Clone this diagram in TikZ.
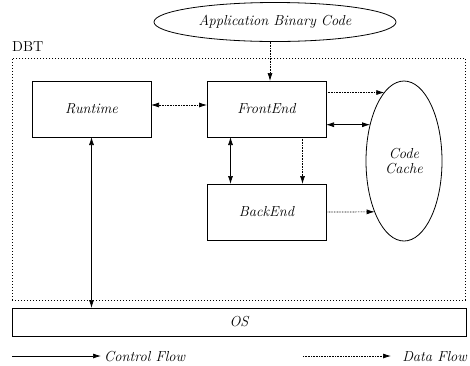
\documentclass[tikz,border=0pt]{standalone}
\usetikzlibrary{shapes.geometric,arrows.meta}
\begin{document}
\begin{tikzpicture}[x=1pt,y=-1pt,
  lbl/.style={font=\fontsize{14.5}{14.5}\selectfont\itshape},
  blk/.style={draw,line width=0.8pt,lbl,inner sep=0pt,outer sep=0pt,minimum width=119pt,minimum height=56pt},
  ell/.style={draw,line width=0.8pt,ellipse,lbl,inner sep=0pt,outer sep=0pt},
  ctl/.style={line width=0.7pt,{Latex[length=8pt,width=5pt]}-{Latex[length=8pt,width=5pt]}},
  ctlone/.style={line width=0.7pt,-{Latex[length=8pt,width=5pt]}},
  dat/.style={line width=0.7pt,dash pattern=on 0.8pt off 0.8pt,-{Latex[length=8pt,width=5pt]}},
  datboth/.style={line width=0.7pt,dash pattern=on 0.8pt off 0.8pt,{Latex[length=8pt,width=5pt]}-{Latex[length=8pt,width=5pt]}},
  frame/.style={draw,line width=0.7pt,dash pattern=on 0.8pt off 2.2pt}]
\useasboundingbox (0,0) rectangle (470,365);
% DBT frame
\node[frame,inner sep=0pt,minimum width=453pt,minimum height=242pt] (dbt) at (238.5,179) {};
\node[anchor=base west,font=\fontsize{14.5}{14.5}\selectfont,inner sep=0pt] (dbtl) at (12,51) {DBT};
% nodes
\node[ell,minimum width=242pt,minimum height=39pt] (abc) at (275,22) {Application Binary Code};
\node[blk] (rt) at (91.5,109) {Runtime};
\node[blk] (fe) at (266.5,109) {FrontEnd};
\node[blk] (be) at (266.5,212) {BackEnd};
\node[ell,minimum width=76pt,minimum height=160pt,align=center] (cc) at (404,161) {Code\\Cache};
\node[draw,line width=0.8pt,lbl,inner sep=0pt,outer sep=0pt,minimum width=454pt,minimum height=28pt] (os) at (239,322) {OS};
% connectors
\draw[dat] ([xshift=-5pt]abc.south) -- ([xshift=-5pt]abc.south |- fe.north);
\draw[datboth] ([yshift=4pt]rt.east) -- ([yshift=4pt]fe.west);
\draw[dat] (cc.106.4 -| fe.east) -- (cc.106.4);
\draw[ctl] (cc.133.3 -| fe.east) -- (cc.133.3);
\draw[ctl] ([xshift=-36pt]fe.south) -- ([xshift=-36pt]be.north);
\draw[dat] ([xshift=36pt]fe.south) -- ([xshift=36pt]be.north);
\draw[dat] (be.east) -- (cc.240.1);
\draw[ctl] (rt.south) -- (rt.south |- os.north);
% legend
\coordinate (c1) at (12,356);
\coordinate (c2) at (101,356);
\coordinate (d1) at (303,356);
\coordinate (d2) at (391,356);
\draw[ctlone] (c1) -- (c2);
\draw[dat] (d1) -- (d2);
\node[lbl,anchor=base west,inner sep=0pt] (cl) at (104,361) {Control Flow};
\node[lbl,anchor=base east,inner sep=0pt] (dl) at (467,361) {Data Flow};
\end{tikzpicture}
\end{document}
